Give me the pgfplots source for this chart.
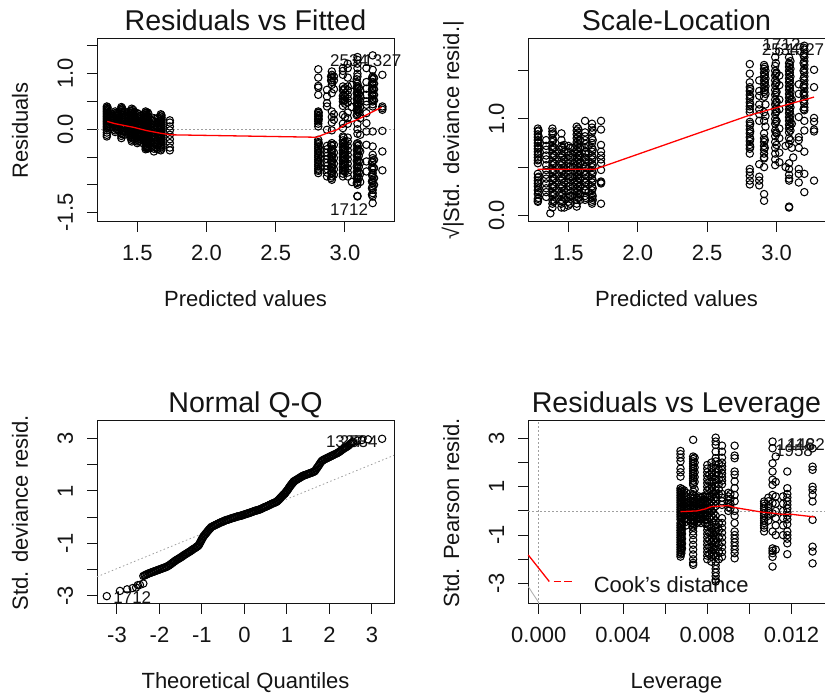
\documentclass[border=0pt]{standalone}
\usepackage{pgfplots}
\pgfplotsset{compat=1.18}
\usepackage{fontspec}
\setmainfont{Liberation Sans}
\definecolor{ink}{gray}{0.08}
\pgfplotsset{rpanel/.style={
  scale only axis, width=297pt, height=183pt, clip=false,
  axis line style={line width=1pt,ink}, 
  tick align=outside, tick pos=left, major tick length=10pt,
  tick style={line width=1pt,ink},
  tick label style={font=\fontsize{22}{22}\selectfont,text=ink},
  xticklabel style={anchor=base,yshift=-29pt},
  yticklabel style={rotate=90,anchor=base,yshift=14pt},
  title style={at={(axis description cs:0.5,1)},anchor=base,yshift=2pt,font=\fontsize{28.6}{28.6}\selectfont,text=ink},
  xlabel style={at={(axis description cs:0.5,0)},anchor=base,yshift=-85pt,font=\fontsize{22}{22}\selectfont,text=ink},
  ylabel style={at={(axis description cs:0,0.5)},anchor=base,yshift=69pt,font=\fontsize{22}{22}\selectfont,text=ink},
},
over/.style={scale only axis, width=297pt, height=183pt, clip=false, hide axis},
pts/.style={only marks,mark=o,mark size=3.7pt,mark options={line width=1.05pt,draw=black,fill=none}},
redl/.style={red,line width=1.3pt,no marks},
grayd/.style={gray!75,line width=0.8pt,dash pattern=on 1.5pt off 2.5pt,no marks},
}
\newcommand{\lab}[3]{\node[anchor=base,font=\fontsize{17}{17}\selectfont,text=ink,inner sep=0pt] at (axis cs:#1,#2) {#3};}
\begin{document}
\begin{tikzpicture}[x=1pt,y=1pt]
\useasboundingbox (0,0) rectangle (825,695);
%% Panel 1
\begin{axis}[rpanel,at={(97pt,473pt)},anchor=south west,
  xmin=1.209,xmax=3.354,ymin=-1.67,ymax=1.625,
  xtick={1.5,2,2.5,3},xticklabels={1.5,2.0,2.5,3.0},
  ytick={-1.5,-1,-0.5,0,0.5,1,1.5},yticklabels={-1.5,,,0.0,,1.0,},
  title={Residuals vs Fitted},xlabel={Predicted values},ylabel={Residuals}]
\addplot[grayd] coordinates {(1.209,0)(3.354,0)};
\addplot[pts] coordinates {
(1.28,.41)(1.28,.38)(1.28,.35)(1.28,.32)(1.28,.29)(1.28,.26)(1.28,.23)(1.28,.2)(1.28,.17)(1.28,.14)(1.28,.11)(1.28,.08)(1.28,.05)(1.28,.02)(1.28,-.02)(1.28,-.06)(1.28,-.1)(1.28,-.13)
(1.285,.395)(1.285,.365)(1.285,.335)(1.285,.305)(1.285,.275)(1.285,.245)(1.285,.215)(1.285,.185)(1.285,.155)(1.285,.125)(1.285,.095)(1.285,.065)(1.285,.035)
(1.34,.32)(1.34,.29)(1.34,.26)(1.34,.22)(1.34,.18)(1.34,.14)(1.34,.1)(1.34,.06)(1.34,.03)(1.34,-.02)(1.34,-.05)
(1.35,.3)(1.35,.27)(1.35,.24)(1.35,.21)(1.35,.18)(1.35,.15)(1.35,.12)(1.35,.09)(1.35,.06)(1.35,.03)(1.35,0)
(1.36,.3)(1.36,.24)(1.36,.2)(1.36,.15)(1.36,.1)(1.36,.05)(1.36,0)
(1.385,.4)(1.385,.37)(1.385,.34)(1.385,.31)(1.385,.27)(1.385,.23)(1.385,.19)(1.385,.15)(1.385,.11)(1.385,.07)(1.385,.03)(1.385,-.02)(1.385,-.07)(1.385,-.12)(1.385,-.16)
(1.39,.38)(1.39,.35)(1.39,.32)(1.39,.29)(1.39,.25)(1.39,.21)(1.39,.17)(1.39,.13)(1.39,.09)(1.39,.05)(1.39,.01)(1.39,-.04)(1.39,-.09)
(1.405,.32)(1.405,.26)(1.405,.2)(1.405,.14)(1.405,.08)(1.405,.02)(1.405,-.04)(1.405,-.1)
(1.44,.3)(1.44,.25)(1.44,.2)(1.44,.15)(1.44,.1)(1.44,.05)(1.44,0)(1.44,-.05)(1.44,-.1)
(1.45,.33)(1.45,.29)(1.45,.25)(1.45,.21)(1.45,.17)(1.45,.13)(1.45,.09)(1.45,.05)(1.45,.01)(1.45,-.03)(1.45,-.07)(1.45,-.11)(1.45,-.15)
(1.46,.37)(1.46,.33)(1.46,.29)(1.46,.25)(1.46,.21)(1.46,.17)(1.46,.13)(1.46,.09)(1.46,.05)(1.46,.01)(1.46,-.03)(1.46,-.07)(1.46,-.11)(1.46,-.15)(1.46,-.19)(1.46,-.22)
(1.47,.35)(1.47,.31)(1.47,.27)(1.47,.23)(1.47,.19)(1.47,.15)(1.47,.11)(1.47,.07)(1.47,.03)(1.47,-.01)(1.47,-.05)(1.47,-.09)(1.47,-.13)(1.47,-.17)
(1.48,.3)(1.48,.24)(1.48,.18)(1.48,.12)(1.48,.06)(1.48,0)(1.48,-.06)(1.48,-.12)(1.48,-.18)
(1.5,.29)(1.5,.25)(1.5,.21)(1.5,.17)(1.5,.13)(1.5,.09)(1.5,.05)(1.5,.01)(1.5,-.03)(1.5,-.07)(1.5,-.11)(1.5,-.15)(1.5,-.19)(1.5,-.22)(1.5,-.25)
(1.51,.27)(1.51,.23)(1.51,.19)(1.51,.15)(1.51,.11)(1.51,.07)(1.51,.03)(1.51,-.01)(1.51,-.05)(1.51,-.09)(1.51,-.13)(1.51,-.17)(1.51,-.21)
(1.53,.24)(1.53,.16)(1.53,.08)(1.53,0)(1.53,-.08)(1.53,-.16)(1.53,-.24)
(1.56,.32)(1.56,.29)(1.56,.26)(1.56,.23)(1.56,.2)(1.56,.16)(1.56,.12)(1.56,.08)(1.56,.04)(1.56,0)(1.56,-.04)(1.56,-.08)(1.56,-.12)(1.56,-.16)(1.56,-.2)(1.56,-.24)(1.56,-.28)(1.56,-.32)(1.56,-.36)
(1.565,.3)(1.565,.26)(1.565,.22)(1.565,.18)(1.565,.14)(1.565,.1)(1.565,.06)(1.565,.02)(1.565,-.02)(1.565,-.06)(1.565,-.1)(1.565,-.14)(1.565,-.18)(1.565,-.22)(1.565,-.26)(1.565,-.3)(1.565,-.34)
(1.575,.3)(1.575,.24)(1.575,.18)(1.575,.12)(1.575,.06)(1.575,0)(1.575,-.06)(1.575,-.12)(1.575,-.18)(1.575,-.24)(1.575,-.3)(1.575,-.35)
(1.58,.28)(1.58,.22)(1.58,.16)(1.58,.1)(1.58,.04)(1.58,-.02)(1.58,-.08)(1.58,-.14)(1.58,-.2)(1.58,-.26)(1.58,-.32)
(1.6,.16)(1.6,.08)(1.6,0)(1.6,-.08)(1.6,-.16)(1.6,-.24)(1.6,-.32)
(1.62,.2)(1.62,.15)(1.62,.1)(1.62,.05)(1.62,0)(1.62,-.05)(1.62,-.1)(1.62,-.15)(1.62,-.2)(1.62,-.25)(1.62,-.3)(1.62,-.35)(1.62,-.4)
(1.625,.18)(1.625,.13)(1.625,.08)(1.625,.03)(1.625,-.02)(1.625,-.07)(1.625,-.12)(1.625,-.17)(1.625,-.22)(1.625,-.27)(1.625,-.32)
(1.645,.2)(1.645,.12)(1.645,.04)(1.645,-.04)(1.645,-.12)(1.645,-.2)(1.645,-.28)(1.645,-.36)
(1.67,.27)(1.67,.23)(1.67,.19)(1.67,.15)(1.67,.11)(1.67,.07)(1.67,.03)(1.67,-.01)(1.67,-.05)(1.67,-.09)(1.67,-.13)(1.67,-.17)(1.67,-.21)(1.67,-.25)(1.67,-.29)(1.67,-.33)(1.67,-.38)
(1.675,.25)(1.675,.21)(1.675,.17)(1.675,.13)(1.675,.09)(1.675,.05)(1.675,.01)(1.675,-.03)(1.675,-.07)(1.675,-.11)(1.675,-.15)(1.675,-.19)(1.675,-.23)(1.675,-.27)(1.675,-.31)(1.675,-.35)
(1.735,.16)(1.735,.12)(1.735,.05)(1.735,-.02)(1.735,-.1)(1.735,-.18)(1.735,-.25)(1.735,-.33)(1.735,-.38)
(2.807,1.08)(2.807,.93)(2.807,.78)(2.807,.75)(2.807,.62)(2.807,.32)(2.807,.29)(2.807,.26)(2.807,.23)(2.807,.2)(2.807,.17)(2.807,.14)(2.807,.1)(2.807,.05)(2.807,-.19)(2.807,-.23)(2.807,-.27)(2.807,-.31)(2.807,-.35)(2.807,-.39)(2.807,-.43)(2.807,-.47)(2.807,-.51)(2.807,-.55)(2.807,-.59)(2.807,-.63)(2.807,-.67)(2.807,-.71)(2.807,-.75)(2.807,-.79)
(2.81,-.25)(2.81,-.33)(2.81,-.41)(2.81,-.49)(2.81,-.57)(2.81,-.65)(2.81,-.73)(2.81,.3)(2.81,.24)(2.81,.18)
(2.87,.71)(2.87,.59)(2.87,.47)(2.87,.41)(2.87,-.01)(2.87,-.3)(2.87,-.36)(2.87,-.42)(2.87,-.48)(2.87,-.54)(2.87,-.6)(2.87,-.66)(2.87,-.72)(2.87,-.78)(2.87,-.85)
(2.9,-.28)(2.9,-.38)(2.9,-.48)(2.9,-.58)(2.9,-.68)(2.9,-.78)(2.9,-.88)(2.9,.95)(2.9,.88)
(2.905,1.04)(2.905,.98)(2.905,.92)(2.905,.85)(2.905,.8)(2.905,.65)(2.905,.32)(2.905,.22)(2.905,.12)(2.905,-.02)(2.905,-.25)(2.905,-.3)(2.905,-.35)(2.905,-.4)(2.905,-.45)(2.905,-.5)(2.905,-.55)(2.905,-.6)(2.905,-.65)(2.905,-.7)(2.905,-.75)(2.905,-.8)(2.905,-.85)(2.905,-.91)
(2.92,.95)(2.92,.88)(2.92,.72)(2.92,.27)(2.92,.17)(2.92,-.28)(2.92,-.42)(2.92,-.52)(2.92,-.62)(2.92,-.72)(2.92,-.82)
(2.985,1.1)(2.985,1.05)(2.985,.98)(2.985,.77)(2.985,.7)(2.985,.6)(2.985,.55)(2.985,.5)(2.985,.42)(2.985,.26)(2.985,.1)(2.985,.02)(2.985,-.13)(2.985,-.2)(2.985,-.26)(2.985,-.32)(2.985,-.38)(2.985,-.44)(2.985,-.5)(2.985,-.56)(2.985,-.62)(2.985,-.68)(2.985,-.74)(2.985,-.8)(2.985,-.85)
(2.99,-.15)(2.99,-.25)(2.99,-.35)(2.99,-.45)(2.99,-.55)(2.99,-.65)(2.99,-.75)(2.99,.72)(2.99,.62)(2.99,.52)
(3,.74)(3,.65)(3,.58)(3,.52)(3,.46)(3,.22)(3,-.22)(3,-.29)(3,-.35)(3,-.41)(3,-.47)(3,-.53)(3,-.59)(3,-.65)(3,-.71)(3,-.77)
(3.02,1.18)(3.02,1.1)(3.02,.93)(3.02,.77)(3.02,.7)(3.02,.62)(3.02,.55)(3.02,.48)(3.02,.3)(3.02,.2)(3.02,.1)(3.02,-.15)(3.02,-.22)(3.02,-.3)(3.02,-.38)(3.02,-.46)(3.02,-.54)(3.02,-.62)(3.02,-.7)(3.02,-.78)(3.02,-.85)
(3.05,.8)(3.05,.4)(3.05,-.95)
(3.085,.9)(3.085,.85)(3.085,.75)(3.085,.65)(3.085,.55)(3.085,.45)(3.085,.35)(3.085,.25)(3.085,-.27)(3.085,-.37)(3.085,-.47)(3.085,-.57)(3.085,-.67)(3.085,-.77)(3.085,-.87)(3.085,-.97)
(3.09,1.3)(3.09,1.25)(3.09,1.18)(3.09,1.1)(3.09,1.0)(3.09,.95)(3.09,.82)(3.09,.77)(3.09,.72)(3.09,.67)(3.09,.62)(3.09,.57)(3.09,.52)(3.09,.47)(3.09,.42)(3.09,.37)(3.09,.32)(3.09,.27)(3.09,.1)(3.09,0)(3.09,-.08)(3.09,-.25)(3.09,-.3)(3.09,-.35)(3.09,-.4)(3.09,-.45)(3.09,-.5)(3.09,-.55)(3.09,-.6)(3.09,-.65)(3.09,-.7)(3.09,-.75)(3.09,-.8)(3.09,-.85)(3.09,-.9)(3.09,-.95)(3.09,-1.0)(3.09,-1.21)(3.09,-1.2)
(3.1,.75)(3.1,.64)(3.1,.55)(3.1,.45)(3.1,.35)(3.1,.3)(3.1,-.28)(3.1,-.38)(3.1,-.48)(3.1,-.58)(3.1,-.68)(3.1,-.78)(3.1,-.88)
(3.11,.7)(3.11,.6)(3.11,.5)(3.11,.4)(3.11,.2)(3.11,-.1)(3.11,-.4)(3.11,-.6)(3.11,-.8)(3.11,-.95)
(3.155,1.1)(3.155,.85)(3.155,.73)(3.155,.62)(3.155,.5)(3.155,.44)(3.155,.29)(3.155,.11)(3.155,-.04)(3.155,-.28)(3.155,-.58)(3.155,-.76)
(3.195,.92)(3.195,.82)(3.195,.72)(3.195,.62)(3.195,.52)(3.195,-.6)(3.195,-.7)(3.195,-.82)(3.195,-.94)(3.195,-1.06)(3.195,-1.18)
(3.2,1.33)(3.2,1.07)(3.2,.95)(3.2,.9)(3.2,.85)(3.2,.8)(3.2,.75)(3.2,.7)(3.2,.65)(3.2,.6)(3.2,.55)(3.2,.5)(3.2,.45)(3.2,.41)(3.2,-.04)(3.2,-.31)(3.2,-.46)(3.2,-.52)(3.2,-.58)(3.2,-.67)(3.2,-.73)(3.2,-.79)(3.2,-.85)(3.2,-.91)(3.2,-.97)(3.2,-1.03)(3.2,-1.09)(3.2,-1.15)(3.2,-1.21)(3.2,-1.33)
(3.21,.92)(3.21,.82)(3.21,.72)(3.21,.62)(3.21,.52)(3.21,-.55)(3.21,-.7)(3.21,-.88)(3.21,-1)
(3.27,.98)(3.27,.41)(3.27,.38)(3.27,.35)(3.27,-.03)(3.27,-.4)(3.27,-.74)
};
\lab{3.03}{1.13}{2534}
\lab{3.27}{1.13}{1327}
\lab{3.03}{-1.56}{1712}
\end{axis}
\begin{axis}[over,at={(97pt,473pt)},anchor=south west,xmin=1.209,xmax=3.354,ymin=-1.67,ymax=1.625]
\addplot[redl] coordinates {(1.283,.14)(1.34,.1)(1.47,.036)(1.567,-.024)(1.664,-.07)(1.736,-.1)(2.795,-.144)(2.88,-.06)(2.94,-.012)(3.01,.096)(3.096,.18)(3.18,.29)(3.264,.395)};
\end{axis}
%% Panel 2
\begin{axis}[rpanel,at={(528pt,473pt)},anchor=south west,
  xmin=1.209,xmax=3.349,ymin=-0.07,ymax=1.83,
  xtick={1.5,2,2.5,3},xticklabels={1.5,2.0,2.5,3.0},
  ytick={0,0.5,1,1.5},yticklabels={0.0,,1.0,},
  title={Scale-Location},xlabel={Predicted values},ylabel={√|Std. deviance resid.|}]
\addplot[pts] coordinates {
(1.28,.9)(1.28,.87)(1.28,.84)(1.28,.81)(1.28,.78)(1.28,.75)(1.28,.72)(1.28,.69)(1.28,.66)(1.28,.63)(1.28,.6)(1.28,.57)(1.28,.54)(1.28,.43)(1.28,.39)(1.28,.36)(1.28,.33)(1.28,.3)(1.28,.26)(1.28,.22)(1.28,.17)(1.28,.15)(1.28,.14)
(1.285,.88)(1.285,.82)(1.285,.76)(1.285,.7)(1.285,.64)(1.285,.58)(1.285,.4)(1.285,.34)(1.285,.28)(1.285,.24)(1.285,.18)
(1.34,.78)(1.34,.72)(1.34,.68)(1.34,.62)(1.34,.58)(1.34,.52)(1.34,.47)(1.34,.42)(1.34,.38)(1.34,.33)(1.34,.28)(1.34,.24)(1.34,.19)
(1.385,.9)(1.385,.87)(1.385,.84)(1.385,.8)(1.385,.76)(1.385,.72)(1.385,.68)(1.385,.64)(1.385,.6)(1.385,.56)(1.385,.52)(1.385,.48)(1.385,.44)(1.385,.4)(1.385,.36)(1.385,.32)(1.385,.28)(1.385,.24)(1.385,.2)(1.385,.16)(1.385,.12)(1.37,.02)(1.385,.08)
(1.39,.85)(1.39,.78)(1.39,.7)(1.39,.62)(1.39,.54)(1.39,.46)(1.39,.38)(1.39,.3)(1.39,.22)(1.39,.14)
(1.4,.7)(1.4,.62)(1.4,.54)(1.4,.46)(1.4,.38)(1.4,.3)(1.4,.22)(1.4,.15)
(1.45,.85)(1.45,.78)(1.45,.72)(1.45,.68)(1.45,.64)(1.45,.6)(1.45,.56)(1.45,.52)(1.45,.48)(1.45,.44)(1.45,.4)(1.45,.36)(1.45,.32)(1.45,.28)(1.45,.24)(1.45,.2)(1.45,.16)(1.45,.12)(1.45,.08)(1.47,.08)(1.47,.73)
(1.455,.7)(1.455,.62)(1.455,.54)(1.455,.46)(1.455,.38)(1.455,.3)(1.455,.22)(1.455,.14)
(1.47,.66)(1.47,.58)(1.47,.5)(1.47,.42)(1.47,.34)(1.47,.26)(1.47,.18)
(1.5,.72)(1.5,.66)(1.5,.62)(1.5,.58)(1.5,.54)(1.5,.5)(1.5,.46)(1.5,.42)(1.5,.38)(1.5,.34)(1.5,.3)(1.5,.26)(1.5,.22)(1.5,.18)(1.5,.14)(1.5,.1)
(1.51,.7)(1.51,.6)(1.51,.5)(1.51,.4)(1.51,.3)(1.51,.2)(1.51,.12)
(1.53,.7)(1.53,.6)(1.53,.5)(1.53,.4)(1.53,.3)(1.53,.2)
(1.56,.92)(1.56,.88)(1.56,.84)(1.56,.8)(1.56,.76)(1.56,.72)(1.56,.68)(1.56,.64)(1.56,.6)(1.56,.56)(1.56,.52)(1.56,.48)(1.56,.44)(1.56,.4)(1.56,.36)(1.56,.32)(1.56,.28)(1.56,.24)(1.56,.2)(1.56,.16)(1.56,.12)(1.56,.09)
(1.57,.9)(1.57,.86)(1.57,.82)(1.57,.78)(1.57,.74)(1.57,.7)(1.57,.66)(1.57,.62)(1.57,.58)(1.57,.54)(1.57,.5)(1.57,.46)(1.57,.42)(1.57,.38)(1.57,.34)(1.57,.3)(1.57,.26)(1.57,.22)(1.57,.18)
(1.585,.78)(1.585,.7)(1.585,.62)(1.585,.54)(1.585,.46)(1.585,.38)(1.585,.3)(1.585,.22)(1.585,.16)
(1.62,.98)(1.62,.86)(1.62,.82)(1.62,.78)(1.62,.7)(1.62,.64)(1.62,.6)(1.62,.55)(1.62,.5)(1.62,.46)(1.62,.42)(1.62,.38)(1.62,.34)(1.62,.3)(1.62,.26)(1.62,.2)(1.62,.16)
(1.625,.74)(1.625,.66)(1.625,.58)(1.625,.5)(1.625,.42)(1.625,.34)(1.625,.26)(1.625,.18)
(1.645,.72)(1.645,.64)(1.645,.56)(1.645,.48)(1.645,.4)(1.645,.32)(1.645,.24)
(1.67,.95)(1.67,.91)(1.67,.86)(1.67,.8)(1.67,.75)(1.67,.7)(1.67,.66)(1.67,.62)(1.67,.58)(1.67,.54)(1.67,.5)(1.67,.46)(1.67,.42)(1.67,.38)(1.67,.34)(1.67,.3)(1.67,.26)(1.67,.22)(1.67,.18)(1.67,.14)(1.67,.12)
(1.675,.88)(1.675,.78)(1.675,.68)(1.675,.6)(1.675,.52)(1.675,.44)(1.675,.36)(1.675,.28)(1.675,.2)(1.675,.16)
(1.735,.98)(1.735,.89)(1.735,.73)(1.735,.66)(1.735,.62)(1.735,.58)(1.735,.54)(1.735,.47)(1.735,.35)(1.735,.34)(1.735,.33)(1.735,.12)
(2.807,1.57)(2.807,1.47)(2.807,1.38)(2.807,1.33)(2.807,1.29)(2.807,1.25)(2.807,1.21)(2.807,1.17)(2.807,1.13)(2.807,1.1)(2.807,1.07)(2.807,.97)(2.807,.93)(2.807,.89)(2.807,.85)(2.807,.81)(2.807,.77)(2.807,.73)(2.807,.69)(2.807,.64)(2.807,.48)(2.807,.45)(2.807,.41)(2.807,.36)(2.807,.32)
(2.81,1.31)(2.81,1.23)(2.81,1.15)(2.81,.95)(2.81,.87)(2.81,.79)(2.81,.71)
(2.875,1.4)(2.875,1.29)(2.875,1.24)(2.875,1.15)(2.875,.98)(2.875,.53)(2.875,.4)(2.875,.36)(2.875,.31)(2.875,1.1)(2.875,1.05)
(2.91,1.56)(2.91,1.52)(2.91,1.48)(2.91,1.44)(2.91,1.4)(2.91,1.36)(2.91,1.32)(2.91,1.28)(2.91,1.23)(2.91,1.07)(2.91,.98)(2.91,.85)(2.91,.8)(2.91,.76)(2.91,.72)(2.91,.68)(2.91,.64)(2.91,.6)(2.91,.59)(2.91,.5)(2.91,.22)(2.91,.15)
(2.915,1.54)(2.915,1.46)(2.915,1.38)(2.915,1.3)(2.915,.78)(2.915,.7)
(2.92,1.5)(2.92,1.42)(2.92,1.34)(2.92,1.26)(2.92,1.15)(2.92,1.03)(2.92,.92)
(2.99,1.64)(2.99,1.55)(2.99,1.5)(2.99,1.45)(2.99,1.4)(2.99,1.35)(2.99,1.3)(2.99,1.25)(2.99,1.2)(2.99,1.15)(2.99,1.1)(2.99,1.05)(2.99,1)(2.99,.95)(2.99,.88)(2.99,.82)(2.99,.76)(2.99,.7)(2.99,.64)(2.99,.58)(2.99,.52)
(2.995,1.58)(2.995,1.47)(2.995,1.37)(2.995,1.27)(2.995,1.17)(2.995,1.07)(2.995,.97)(2.995,.86)
(3,1.48)(3,1.38)(3,1.28)(3,1.18)(3,1.08)(3,.98)(3,.85)(3,.73)
(3.02,1.7)(3.02,1.45)(3.02,1.35)(3.02,1.2)(3.02,1.1)(3.02,.9)(3.02,.8)(3.02,.65)(3.02,.55)
(3.09,1.64)(3.09,1.58)(3.09,1.54)(3.09,1.5)(3.09,1.46)(3.09,1.42)(3.09,1.38)(3.09,1.34)(3.09,1.3)(3.09,1.26)(3.09,1.22)(3.09,1.18)(3.09,1.14)(3.09,1.1)(3.09,1.06)(3.09,1.02)(3.09,.98)(3.09,.94)(3.09,.9)(3.09,.86)(3.09,.8)(3.09,.74)(3.09,.54)(3.09,.48)(3.09,.42)(3.09,.38)(3.09,.36)(3.09,.09)(3.09,.08)
(3.095,1.56)(3.095,1.48)(3.095,1.4)(3.095,1.32)(3.095,1.24)(3.095,1.16)(3.095,1.08)(3.095,1)(3.095,.92)
(3.1,1.6)(3.1,1.52)(3.1,1.44)(3.1,1.36)(3.1,1.28)(3.1,1.2)(3.1,1.12)(3.1,1.04)(3.1,.96)(3.1,.88)(3.1,.78)
(3.065,.72)(3.065,.5)(3.11,1.2)(3.11,.95)(3.11,.7)(3.12,.6)
(3.16,1.36)(3.16,1.26)(3.16,1.02)(3.16,.81)(3.16,.78)(3.16,.7)(3.16,.48)(3.16,.43)(3.16,.34)
(3.195,1.74)(3.195,1.66)(3.195,1.58)(3.195,1.5)(3.195,1.42)(3.195,1.34)(3.195,1.26)(3.195,1.18)(3.195,1.1)
(3.2,1.76)(3.2,1.72)(3.2,1.68)(3.2,1.64)(3.2,1.6)(3.2,1.56)(3.2,1.52)(3.2,1.48)(3.2,1.44)(3.2,1.4)(3.2,1.36)(3.2,1.32)(3.2,1.28)(3.2,1.24)(3.2,1.2)(3.2,1.16)(3.2,1.12)(3.2,1.09)(3.2,.98)(3.2,.88)(3.2,.66)(3.2,.43)(3.2,.24)
(3.27,1.51)(3.27,1.33)(3.27,1.01)(3.27,.97)(3.27,.89)(3.27,.87)(3.27,.36)
};
\lab{3.036}{1.71}{1712}
\lab{3.03}{1.657}{2534}
\lab{3.207}{1.657}{1327}
\end{axis}
\begin{axis}[over,at={(528pt,473pt)},anchor=south west,xmin=1.209,xmax=3.349,ymin=-0.07,ymax=1.83]
\addplot[redl] coordinates {(1.278,.478)(1.693,.478)(1.736,.5)(2.8,1.036)(3.27,1.227)};
\end{axis}
%% Panel 3
\begin{axis}[rpanel,at={(97pt,91pt)},anchor=south west,
  xmin=-3.47,xmax=3.52,ymin=-3.32,ymax=3.67,
  xtick={-3,-2,-1,0,1,2,3},xticklabels={-3,-2,-1,0,1,2,3},
  ytick={-3,-2,-1,0,1,2,3},yticklabels={-3,,-1,,1,,3},
  title={Normal Q-Q},xlabel={Theoretical Quantiles},ylabel={Std. deviance resid.}]
\addplot[grayd] coordinates {(-3.47,-2.28)(3.52,2.36)};
\addplot[pts] coordinates {
(-3.24,-3.02)(-2.93,-2.82)(-2.76,-2.76)(-2.63,-2.71)(-2.55,-2.69)(-2.51,-2.6)(-2.46,-2.59)(-2.38,-2.54)
(-2.38,-2.25)(-2.33,-2.21)(-2.28,-2.17)(-2.23,-2.14)(-2.18,-2.11)(-2.13,-2.08)(-2.08,-2.05)(-2.03,-2.02)(-1.98,-1.99)(-1.93,-1.96)(-1.88,-1.93)(-1.83,-1.9)(-1.78,-1.85)(-1.73,-1.79)(-1.68,-1.73)(-1.63,-1.67)(-1.58,-1.62)(-1.53,-1.57)(-1.48,-1.52)(-1.43,-1.46)(-1.38,-1.41)(-1.33,-1.36)(-1.28,-1.31)(-1.23,-1.25)(-1.18,-1.2)(-1.13,-1.14)(-1.09,-1.1)(-1.06,-1.02)(-1.03,-.93)(-1,-.84)(-.97,-.75)(-.93,-.67)(-.89,-.59)(-.85,-.51)(-.81,-.44)(-.77,-.37)(-.72,-.33)(-.67,-.29)(-.62,-.25)(-.57,-.21)(-.52,-.18)(-.47,-.14)(-.42,-.11)(-.37,-.09)(-.32,-.06)(-.27,-.03)(-.22,-.01)(-.17,.02)(-.12,.04)(-.07,.06)(-.03,.08)(.02,.11)(.07,.14)(.12,.16)(.17,.19)(.22,.22)(.27,.25)(.32,.27)(.36,.29)(.41,.33)(.46,.37)(.51,.4)(.56,.44)(.61,.48)(.66,.52)(.71,.55)(.76,.59)(.8,.65)(.84,.72)(.88,.79)(.92,.86)(.95,.9)(.98,.97)(1.01,1.03)(1.04,1.1)(1.07,1.17)(1.1,1.24)(1.13,1.3)(1.16,1.36)(1.19,1.39)(1.24,1.44)(1.29,1.49)(1.34,1.54)(1.38,1.58)(1.42,1.6)(1.47,1.63)(1.52,1.66)(1.57,1.69)(1.62,1.72)(1.66,1.76)(1.7,1.86)(1.74,1.95)(1.78,2.05)(1.82,2.14)(1.85,2.18)(1.9,2.22)(1.95,2.26)(2,2.3)(2.05,2.34)(2.1,2.38)(2.17,2.43)(2.22,2.48)(2.27,2.54)(2.32,2.6)(2.37,2.65)(2.41,2.69)(2.46,2.75)(2.51,2.82)(2.56,2.88)(2.66,2.92)(2.76,2.94)(2.91,2.97)(3.24,2.99)
(-2.35,-2.23)(-2.3,-2.19)(-2.25,-2.15)(-2.2,-2.12)(-2.15,-2.09)(-2.1,-2.06)(-2.05,-2.03)(-2,-2)(-1.95,-1.97)(-1.9,-1.94)(-1.85,-1.91)(-1.8,-1.87)(-1.75,-1.82)(-1.7,-1.76)(-1.65,-1.7)(-1.6,-1.64)(-1.55,-1.59)(-1.5,-1.54)(-1.45,-1.49)(-1.4,-1.43)(-1.35,-1.38)(-1.3,-1.33)(-1.25,-1.28)(-1.2,-1.22)(-1.15,-1.17)(-1.11,-1.12)(-1.07,-1.06)(-1.04,-.97)(-1.01,-.88)(-.98,-.79)(-.95,-.71)(-.91,-.63)(-.87,-.55)(-.83,-.47)(-.79,-.4)(-.74,-.35)(-.69,-.31)(-.64,-.27)(-.59,-.23)(-.54,-.19)(-.49,-.16)(-.44,-.12)(-.39,-.1)(-.34,-.07)(-.29,-.04)(-.24,-.02)(-.19,.01)(-.14,.03)(-.09,.05)(-.05,.07)(0,.1)(.05,.12)(.1,.15)(.15,.18)(.2,.21)(.25,.24)(.3,.26)(.34,.28)(.39,.31)(.44,.35)(.49,.39)(.54,.42)(.59,.46)(.64,.5)(.69,.54)(.74,.57)(.78,.62)(.82,.68)(.86,.75)(.9,.82)(.94,.88)(.97,.94)(1,1)(1.03,1.07)(1.06,1.14)(1.09,1.21)(1.12,1.27)(1.15,1.33)(1.18,1.38)(1.22,1.42)(1.27,1.47)(1.32,1.52)(1.36,1.56)(1.4,1.59)(1.45,1.62)(1.5,1.65)(1.55,1.68)(1.6,1.71)(1.64,1.74)(1.68,1.81)(1.72,1.9)(1.76,2)(1.8,2.1)(1.84,2.16)(1.88,2.2)(1.93,2.24)(1.98,2.28)(2.03,2.32)(2.08,2.36)(2.14,2.41)(2.2,2.46)(2.25,2.51)(2.3,2.57)(2.35,2.63)(2.39,2.67)(2.44,2.72)(2.49,2.79)(2.54,2.85)
};
\lab{2.365}{2.65}{1327}
\lab{2.69}{2.65}{2534}
\lab{-2.64}{-3.32}{1712}
\end{axis}
%% Panel 4
\begin{axis}[rpanel,at={(528pt,91pt)},anchor=south west,
  xmin=-0.00051,xmax=0.01359,ymin=-3.85,ymax=3.72,
  xtick={0,0.002,0.004,0.006,0.008,0.01,0.012},xticklabels={0.000,,0.004,,0.008,,0.012},
  ytick={-3,-2,-1,0,1,2,3},yticklabels={-3,,-1,,1,,3},
  scaled x ticks=false,
  title={Residuals vs Leverage},xlabel={Leverage},ylabel={Std. Pearson resid.}]
\addplot[grayd] coordinates {(-0.00051,0)(0.01359,0)};
\addplot[grayd] coordinates {(0,-3.85)(0,3.72)};
\addplot[gray!60,line width=0.9pt,no marks] coordinates {(-0.0005,-3.13)(0,-3.79)};
\addplot[pts] coordinates {
(.00673,2.48)(.00673,2.35)(.00673,2.2)(.00673,2.05)(.00673,1.75)(.00673,1.6)(.00673,1.42)(.00673,.94)(.00673,.85)(.00673,.75)(.00673,.65)(.00673,.55)(.00673,.45)(.00673,.35)(.00673,.25)(.00673,.15)(.00673,.05)(.00673,-.05)(.00673,-.15)(.00673,-.25)(.00673,-.35)(.00673,-.5)(.00673,-.6)(.00673,-.7)(.00673,-.8)(.00673,-.9)(.00673,-1)(.00673,-1.1)(.00673,-1.2)(.00673,-1.3)(.00673,-1.4)(.00673,-1.5)(.00673,-1.6)(.00673,-1.7)(.00673,-1.8)(.00673,-1.89)
(.00677,.8)(.00677,.7)(.00677,.6)(.00677,.5)(.00677,.4)(.00677,.3)(.00677,.2)(.00677,.1)(.00677,0)(.00677,-.1)(.00677,-.2)(.00677,-.3)(.00677,-.55)(.00677,-.65)(.00677,-.75)(.00677,-.85)(.00677,-.95)(.00677,-1.05)(.00677,-1.15)(.00677,-1.25)(.00677,-1.35)(.00677,-1.45)(.00677,-1.55)(.00677,-1.65)(.00677,-1.75)
(.0068,.9)(.0068,.7)(.0068,.5)(.0068,.3)(.0068,.1)(.0068,-.1)(.0068,-.3)(.0068,-.55)(.0068,-.75)(.0068,-.95)(.0068,-1.15)(.0068,-1.35)(.0068,-1.55)
(.0069,.85)(.0069,.7)(.0069,.55)(.0069,.4)(.0069,.25)(.0069,.1)(.0069,-.05)(.0069,-.2)(.0069,-.35)
(.0070,.75)(.0070,.6)(.0070,.45)(.0070,.3)(.0070,.15)(.0070,0)(.0070,-.15)(.0070,-.3)(.0070,-.45)(.0070,-.6)
(.0071,.4)(.0071,.25)(.0071,.1)(.0071,-.05)(.0071,-.2)(.0071,-.35)
(.0072,.35)(.0072,.2)(.0072,.05)(.0072,-.1)(.0072,-.25)(.0072,-.45)
(.0073,.7)(.0073,.55)(.0073,.4)(.0073,.25)(.0073,.1)(.0073,-.05)(.0073,-.2)(.0073,-.35)(.0073,-.5)(.0073,-.65)
(.00733,2.94)(.00733,2.25)(.00733,2.15)(.00733,2.05)(.00733,1.95)(.00733,1.85)(.00733,1.75)(.00733,1.65)(.00733,1.55)(.00733,1.45)(.00733,1.35)(.00733,1.25)(.00733,1.15)(.00733,1.08)(.00733,.8)(.00733,.65)(.00733,.5)(.00733,.35)(.00733,.2)(.00733,.05)(.00733,-.1)(.00733,-.25)(.00733,-.4)(.00733,-.55)(.00733,-.7)(.00733,-.85)(.00733,-1)(.00733,-1.2)(.00733,-1.4)(.00733,-1.6)(.00733,-1.8)(.00733,-2)(.00733,-2.15)(.00733,-2.23)
(.0074,2.2)(.0074,2)(.0074,1.8)(.0074,1.6)(.0074,1.4)(.0074,1.2)(.0074,.9)(.0074,.6)(.0074,.4)(.0074,.2)(.0074,0)(.0074,-.2)(.0074,-.45)
(.0075,.55)(.0075,.4)(.0075,.25)(.0075,.1)(.0075,-.05)(.0075,-.2)(.0075,-.35)(.0075,-.5)
(.0076,.6)(.0076,.45)(.0076,.3)(.0076,.15)(.0076,0)(.0076,-.15)(.0076,-.3)(.0076,-.45)
(.0077,.55)(.0077,.4)(.0077,.25)(.0077,.1)(.0077,-.05)(.0077,-.2)(.0077,-.35)(.0077,-.5)
(.0078,.6)(.0078,.45)(.0078,.3)(.0078,.15)(.0078,0)(.0078,-.15)(.0078,-.3)
(.0079,.6)(.0079,.4)(.0079,.25)(.0079,.1)(.0079,-.05)(.0079,-.2)(.0079,-.35)(.0079,-.5)
(.008,1.9)(.008,1.75)(.008,1.6)(.008,1.45)(.008,1.3)(.008,1.15)(.008,1)(.008,.85)(.008,.7)(.008,.55)(.008,.4)(.008,.25)(.008,.1)(.008,-.05)(.008,-.2)(.008,-.35)(.008,-.5)(.008,-.65)(.008,-.8)(.008,-.95)(.008,-1.1)(.008,-1.25)(.008,-1.4)(.008,-1.55)(.008,-1.7)(.008,-1.85)(.008,-2)
(.0081,1.5)(.0081,1.2)(.0081,.9)(.0081,.6)(.0081,.3)(.0081,0)(.0081,-.3)(.0081,-.6)(.0081,-.9)(.0081,-1.2)(.0081,-1.5)(.0081,-1.8)
(.0082,2)(.0082,1.8)(.0082,1.6)(.0082,1.4)(.0082,1.2)(.0082,1)(.0082,.8)(.0082,.6)(.0082,.4)(.0082,.2)(.0082,0)(.0082,-.2)(.0082,-.7)(.0082,-.9)(.0082,-1.1)(.0082,-1.3)(.0082,-1.5)(.0082,-1.7)(.0082,-1.9)(.0082,-2.1)
(.0083,.7)(.0083,.5)(.0083,.3)(.0083,.1)(.0083,-.1)(.0083,-.3)(.0083,-.5)(.0083,-.8)(.0083,-1)(.0083,-1.2)(.0083,-1.4)(.0083,-1.6)(.0083,-1.8)
(.0084,3.03)(.0084,2.87)(.0084,2.73)(.0084,2.45)(.0084,2.18)(.0084,2.05)(.0084,1.9)(.0084,1.75)(.0084,1.6)(.0084,1.45)(.0084,1.3)(.0084,1.15)(.0084,1)(.0084,.85)(.0084,.7)(.0084,.55)(.0084,.4)(.0084,.2)(.0084,-.2)(.0084,-.4)(.0084,-.55)(.0084,-.7)(.0084,-.85)(.0084,-1)(.0084,-1.15)(.0084,-1.3)(.0084,-1.45)(.0084,-1.6)(.0084,-1.75)(.0084,-1.9)(.0084,-2.1)(.0084,-2.25)(.0084,-2.4)(.0084,-2.55)(.0084,-2.7)(.0084,-2.85)(.0084,-2.92)
(.00855,1.95)(.00855,1.7)(.00855,1.5)(.00855,1.3)(.00855,1.1)(.00855,.9)(.00855,.7)(.00855,-.5)(.00855,-.8)(.00855,-1.1)(.00855,-1.4)(.00855,-1.7)(.00855,-2)
(.0087,2.7)(.0087,2.45)(.0087,2.2)(.0087,2)(.0087,1.85)(.0087,1.7)(.0087,1.55)(.0087,1.4)(.0087,1.25)(.0087,1.1)(.0087,.7)(.0087,.55)(.0087,.4)(.0087,.25)(.0087,-.3)(.0087,-.5)(.0087,-.7)(.0087,-.9)(.0087,-1.1)(.0087,-1.3)(.0087,-1.5)(.0087,-1.7)(.0087,-1.9)
(.009,.75)(.009,.6)(.009,.45)(.009,.3)(.009,.15)(.009,0)
(.0091,.7)(.0091,.5)(.0091,.3)(.0091,.1)
(.0093,2.7)(.0093,2.29)(.0093,2.18)(.0093,1.63)(.0093,1.5)(.0093,1.22)(.0093,.94)(.0093,.66)(.0093,.4)(.0093,0)(.0093,-.2)(.0093,-.5)(.0093,-.85)(.0093,-1)(.0093,-1.15)(.0093,-1.3)(.0093,-1.45)(.0093,-1.6)(.0093,-1.75)(.0093,-1.96)
(.0107,.39)(.0107,.3)(.0107,.2)(.0107,.1)(.0107,0)(.0107,-.1)(.0107,-.2)(.0107,-.3)(.0107,-.4)(.0107,-.5)(.0107,-.6)(.0107,-.7)(.0107,-.85)
(.0109,.55)(.0109,.4)(.0109,.2)(.0109,0)(.0109,-.2)(.0109,-.4)
(.0111,2.87)(.0111,2.59)(.0111,1.97)(.0111,1.63)(.0111,1.29)(.0111,1.08)(.0111,.66)(.0111,.32)(.0111,-.1)(.0111,-.85)(.0111,-1.55)(.0111,-1.65)(.0111,-1.75)(.0111,-1.9)(.0111,-2.3)
(.01125,2.25)(.01125,1.2)(.01125,.6)(.01125,.3)(.01125,0)(.01125,-.3)(.01125,-.6)(.01125,-1)(.01125,-1.6)
(.0118,1.63)(.0118,.94)(.0118,.7)(.0118,.55)(.0118,.4)(.0118,.25)(.0118,.1)(.0118,-.05)(.0118,-.2)(.0118,-.35)(.0118,-.55)(.0118,-.85)(.0118,-1)(.0118,-1.15)(.0118,-1.34)(.0118,-1.79)
(.0116,.6)(.0116,.3)(.0116,0)(.0116,-.3)(.0116,-.6)(.0116,-1)
(.013,2.59)(.013,1.83)(.013,1.7)(.013,1)(.013,.87)(.013,.66)(.013,.39)(.013,-.37)(.013,-1.48)(.013,-1.68)(.013,-2.17)
};
\node[anchor=base,font=\fontsize{22}{22}\selectfont,text=ink,inner sep=0pt] at (axis cs:.00629,-3.38) {Cook's distance};
\lab{.01212}{2.25}{1958}
\lab{.0122}{2.48}{1416}
\lab{.01268}{2.48}{1482}
\end{axis}
\begin{axis}[over,at={(528pt,91pt)},anchor=south west,xmin=-0.00051,xmax=0.01359,ymin=-3.85,ymax=3.72]
\addplot[redl] coordinates {(.00673,-.03)(.0075,0)(.0079,.08)(.0082,.18)(.009,.22)(.0093,.14)(.0106,-.05)(.0112,-.1)(.0115,-.14)(.012,-.14)(.0131,-.25)};
\addplot[redl] coordinates {(-0.0005,-1.82)(0.0005,-2.92)};
\addplot[redl] coordinates {(.00071,-2.92)(.00108,-2.92)};
\addplot[redl] coordinates {(.0012,-2.92)(.00157,-2.92)};
\end{axis}
\end{tikzpicture}
\end{document}
